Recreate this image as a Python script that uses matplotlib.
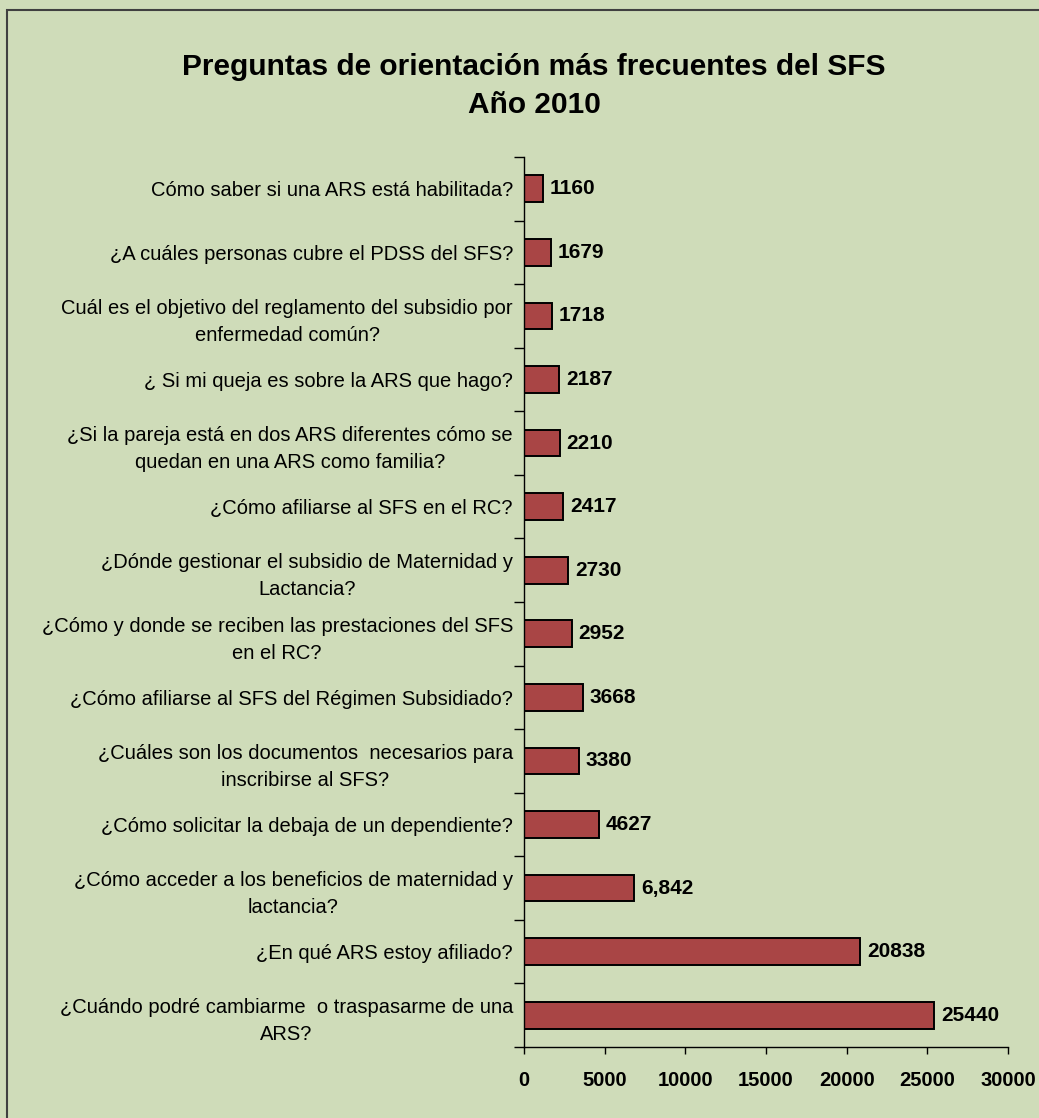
import matplotlib
matplotlib.use('Agg')
import matplotlib.pyplot as plt
import matplotlib.patches as mpatches
import numpy as np

plt.rcParams['font.family'] = ['Liberation Sans', 'DejaVu Sans']

# bottom to top, as drawn
preguntas = [
    '¿Cuándo podré cambiarme  o traspasarme de una\nARS?',
    '¿En qué ARS estoy afiliado?',
    '¿Cómo acceder a los beneficios de maternidad y\nlactancia?',
    '¿Cómo solicitar la debaja de un dependiente?',
    '¿Cuáles son los documentos  necesarios para\ninscribirse al SFS?',
    '¿Cómo afiliarse al SFS del Régimen Subsidiado?',
    '¿Cómo y donde se reciben las prestaciones del SFS\nen el RC?',
    '¿Dónde gestionar el subsidio de Maternidad y\nLactancia?',
    '¿Cómo afiliarse al SFS en el RC?',
    '¿Si la pareja está en dos ARS diferentes cómo se\nquedan en una ARS como familia?',
    '¿ Si mi queja es sobre la ARS que hago?',
    'Cuál es el objetivo del reglamento del subsidio por\nenfermedad común?',
    '¿A cuáles personas cubre el PDSS del SFS?',
    'Cómo saber si una ARS está habilitada?',
]
valores = [25440, 20838, 6842, 4627, 3380, 3668, 2952, 2730, 2417, 2210, 2187, 1718, 1679, 1160]
etiquetas = ['25440', '20838', '6,842', '4627', '3380', '3668', '2952', '2730', '2417', '2210', '2187', '1718', '1679', '1160']
x_ticks = [0, 5000, 10000, 15000, 20000, 25000, 30000]

BG = '#CFDCB9'
BAR = '#A94545'

fig = plt.figure(figsize=(10.39, 11.18), dpi=100)
fig.patch.set_facecolor(BG)
fig.patches.append(mpatches.Rectangle((7 / 1039, -0.05), 1.1, 1 - 10 / 1118 + 0.05,
                                      transform=fig.transFigure, fill=False,
                                      edgecolor='#404040', linewidth=1.5))

ax = fig.add_axes([524 / 1039, 1 - 1047 / 1118, (1008 - 524) / 1039, (1047 - 157) / 1118])
ax.set_facecolor(BG)

y = np.arange(len(valores))
bars = ax.barh(y, valores, height=0.42, color=BAR, edgecolor='black', linewidth=1.4)

for b, lab in zip(bars, etiquetas):
    ax.text(b.get_width() + 420, b.get_y() + b.get_height() / 2, lab,
            ha='left', va='center', fontsize=15, fontweight='bold')

ax.set_xlim(0, 30000)
ax.set_ylim(-0.5, len(valores) - 0.5)
ax.set_xticks(x_ticks)
ax.set_xticklabels([str(t) for t in x_ticks], fontsize=14.5, fontweight='bold')
ax.tick_params(axis='x', direction='out', length=5, width=1, pad=12)

ax.set_yticks(y)
ax.set_yticklabels(preguntas, fontsize=14.5, multialignment='center', linespacing=1.55)
ax.tick_params(axis='y', which='major', length=0, pad=14 - 6)
ax.set_yticks(np.arange(-0.5, len(valores), 1), minor=True)
ax.tick_params(axis='y', which='minor', direction='out', length=7, width=1)

for s in ['top', 'right']:
    ax.spines[s].set_visible(False)
ax.spines['left'].set_linewidth(1)
ax.spines['bottom'].set_linewidth(1)

fig.text(534 / 1039, 1 - 86 / 1118, 'Preguntas de orientación más frecuentes del SFS\nAño 2010',
         ha='center', va='center', fontsize=21.5, fontweight='bold', linespacing=1.45)

fig.savefig('out.png', dpi=100, facecolor=BG)
